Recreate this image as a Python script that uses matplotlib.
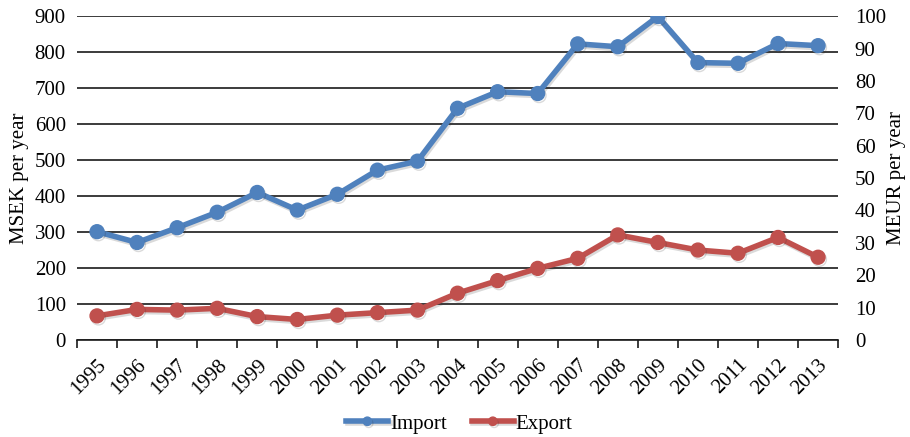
import numpy as np
import matplotlib
matplotlib.use("Agg")
import matplotlib.pyplot as plt
import matplotlib.patheffects as pe

years = [str(y) for y in range(1995, 2014)]
imports = [301, 271, 312, 355, 410, 361, 405, 472, 497, 644, 690, 685,
           823, 815, 899, 771, 769, 824, 818]
exports = [67, 85, 83, 88, 65, 57, 69, 76, 83, 130, 165, 199,
           227, 292, 271, 250, 241, 285, 230]

plt.rcParams['font.family'] = ['Liberation Serif', 'DejaVu Serif']
plt.rcParams['font.size'] = 15

blue = '#4F81BD'
red = '#C0504D'

fig = plt.figure(figsize=(9.1, 4.37), dpi=100)
ax = fig.add_axes([0.0846, 0.222, 0.8364, 0.741])

x = np.arange(len(years))
shadow = [pe.SimpleLineShadow(offset=(1.0, -1.5), alpha=0.18, shadow_color='#333333'), pe.Normal()]
l1, = ax.plot(x, imports, color=blue, lw=4.0, marker='o', ms=10,
              label='Import', path_effects=shadow, zorder=3)
l2, = ax.plot(x, exports, color=red, lw=4.0, marker='o', ms=10,
              label='Export', path_effects=shadow, zorder=3)

ax.set_xlim(-0.5, len(years) - 0.5)
ax.set_ylim(0, 900)
ax.set_yticks(np.arange(0, 901, 100))
ax.yaxis.grid(True, color='#1a1a1a', lw=1.2)
ax.set_axisbelow(True)

ax.set_xticks(x)
ax.set_xticklabels(years, rotation=45, ha='right', rotation_mode='anchor')
ax.set_xticks(np.arange(-0.5, len(years)), minor=True)
ax.tick_params(axis='x', which='major', length=0, pad=11)
ax.tick_params(axis='x', which='minor', length=6, width=1.2, color='#1a1a1a', direction='out')
ax.tick_params(axis='y', length=0, pad=8)
for s in ['left', 'right', 'top']:
    ax.spines[s].set_visible(False)
ax.spines['bottom'].set_color('#1a1a1a')
ax.spines['bottom'].set_linewidth(1.2)
ax.set_ylabel('MSEK per year', labelpad=4)

ax2 = ax.twinx()
ax2.set_ylim(0, 100)
ax2.set_yticks(np.arange(0, 101, 10))
ax2.tick_params(axis='y', length=0, pad=12)
for s in ['left', 'right', 'top', 'bottom']:
    ax2.spines[s].set_visible(False)
ax2.set_ylabel('MEUR per year', labelpad=1)

fig.legend(handles=[l1, l2], loc='lower center', bbox_to_anchor=(0.505, -0.035),
           ncol=2, frameon=False, handlelength=2.0, handletextpad=0.1,
           columnspacing=1.2, markerscale=0.6)

fig.savefig('out.png', dpi=100)
